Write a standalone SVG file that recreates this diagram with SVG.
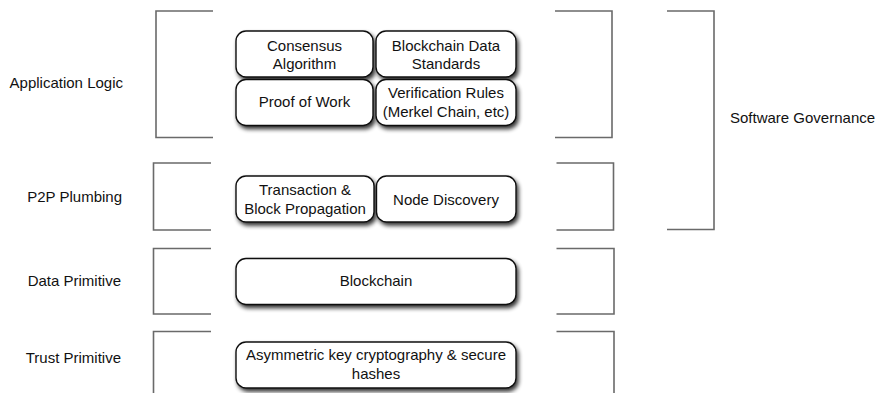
<svg xmlns="http://www.w3.org/2000/svg" width="875" height="393" viewBox="0 0 875 393">
<defs>
<filter id="sh" x="-10%" y="-20%" width="130%" height="160%">
<feGaussianBlur in="SourceAlpha" stdDeviation="2.2"/>
<feOffset dx="1.5" dy="3" result="b"/>
<feComponentTransfer><feFuncA type="linear" slope="0.8"/></feComponentTransfer>
<feMerge><feMergeNode/><feMergeNode in="SourceGraphic"/></feMerge>
</filter>
</defs>
<style>
.br{fill:none;stroke:#6a6a6a;stroke-width:1.6}
.bx{fill:#fff;stroke:#111;stroke-width:1.4;filter:url(#sh)}
text{font-family:"Liberation Sans",Arial,sans-serif;font-size:15px;fill:#111}
.c{text-anchor:middle}
.l{text-anchor:end}
</style>
<rect width="875" height="393" fill="#fff"/>
<g id="brackets">
<path class="br" d="M213,11 H156 V137.5 H213"/>
<path class="br" d="M555,11 H612 V137.5 H555"/>
<path class="br" d="M211,163 H153.5 V230 H211"/>
<path class="br" d="M556.5,163 H613.5 V230 H556.5"/>
<path class="br" d="M211,248.5 H153.5 V314 H211"/>
<path class="br" d="M556.5,248.5 H614 V314 H556.5"/>
<path class="br" d="M211,331.5 H153.5 V400"/>
<path class="br" d="M556.5,331.5 H614 V400"/>
<path class="br" d="M667,11 H714 V229.5 H667"/>
</g>
<g id="labels">
<text class="l" x="123" y="88">Application Logic</text>
<text class="l" x="122" y="202">P2P Plumbing</text>
<text class="l" x="121" y="286">Data Primitive</text>
<text class="l" x="121" y="363">Trust Primitive</text>
<text x="730" y="123">Software Governance</text>
</g>
<g id="consensus"><rect class="bx" x="236" y="31" width="137" height="46" rx="10"/><text class="c" x="304.5" y="51">Consensus</text><text class="c" x="304.5" y="69">Algorithm</text></g>
<g id="data-standards"><rect class="bx" x="376" y="31" width="140" height="46" rx="10"/><text class="c" x="446" y="51">Blockchain Data</text><text class="c" x="446" y="69">Standards</text></g>
<g id="pow"><rect class="bx" x="236" y="79.5" width="137" height="46" rx="10"/><text class="c" x="304.5" y="107">Proof of Work</text></g>
<g id="verification"><rect class="bx" x="376" y="79.5" width="140" height="46" rx="10"/><text class="c" x="446" y="98">Verification Rules</text><text class="c" x="446" y="117">(Merkel Chain, etc)</text></g>
<g id="propagation"><rect class="bx" x="236" y="176" width="138" height="46" rx="10"/><text class="c" x="305" y="195">Transaction &amp;</text><text class="c" x="305" y="214">Block Propagation</text></g>
<g id="discovery"><rect class="bx" x="376.5" y="176" width="139.5" height="46" rx="10"/><text class="c" x="446" y="205">Node Discovery</text></g>
<g id="blockchain"><rect class="bx" x="236" y="258.5" width="280" height="46" rx="10"/><text class="c" x="376" y="286">Blockchain</text></g>
<g id="crypto"><rect class="bx" x="236" y="342" width="280" height="46" rx="10"/><text class="c" x="376" y="360">Asymmetric key cryptography &amp; secure</text><text class="c" x="376" y="379">hashes</text></g>
</svg>
